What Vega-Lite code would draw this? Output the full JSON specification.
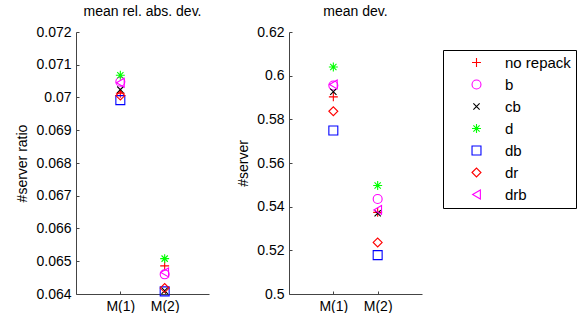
{
  "$schema": "https://vega.github.io/schema/vega-lite/v6.json",
  "background": "white",
  "padding": {"left": 15, "top": 5, "right": 0, "bottom": 0},
  "config": {
    "view": {"stroke": null},
    "font": "Liberation Sans",
    "axis": {"grid": false, "domainColor": "#444", "tickColor": "#444", "labelColor": "black", "titleColor": "black", "labelFontSize": 14, "titleFontSize": 14, "titleFontWeight": "normal", "tickSize": -3, "labelFont": "Liberation Sans", "titleFont": "Liberation Sans"},
    "title": {"fontSize": 14, "fontWeight": "normal", "font": "Liberation Sans", "color": "black"},
    "concat": {"spacing": 27}
  },
  "data": {"values": [
    {"panel": "a", "x": 1, "method": "no repack", "value": 0.07013},
    {"panel": "a", "x": 1, "method": "b", "value": 0.07048},
    {"panel": "a", "x": 1, "method": "cb", "value": 0.07024},
    {"panel": "a", "x": 1, "method": "d", "value": 0.07068},
    {"panel": "a", "x": 1, "method": "db", "value": 0.06992},
    {"panel": "a", "x": 1, "method": "dr", "value": 0.07006},
    {"panel": "a", "x": 1, "method": "drb", "value": 0.07045},
    {"panel": "a", "x": 2, "method": "no repack", "value": 0.06486},
    {"panel": "a", "x": 2, "method": "b", "value": 0.0646},
    {"panel": "a", "x": 2, "method": "cb", "value": 0.0641},
    {"panel": "a", "x": 2, "method": "d", "value": 0.06508},
    {"panel": "a", "x": 2, "method": "db", "value": 0.06408},
    {"panel": "a", "x": 2, "method": "dr", "value": 0.06418},
    {"panel": "a", "x": 2, "method": "drb", "value": 0.06466},
    {"panel": "b", "x": 1, "method": "no repack", "value": 0.5903},
    {"panel": "b", "x": 1, "method": "b", "value": 0.5955},
    {"panel": "b", "x": 1, "method": "cb", "value": 0.5926},
    {"panel": "b", "x": 1, "method": "d", "value": 0.604},
    {"panel": "b", "x": 1, "method": "db", "value": 0.5749},
    {"panel": "b", "x": 1, "method": "dr", "value": 0.5837},
    {"panel": "b", "x": 1, "method": "drb", "value": 0.596},
    {"panel": "b", "x": 2, "method": "no repack", "value": 0.5374},
    {"panel": "b", "x": 2, "method": "b", "value": 0.5435},
    {"panel": "b", "x": 2, "method": "cb", "value": 0.537},
    {"panel": "b", "x": 2, "method": "d", "value": 0.5497},
    {"panel": "b", "x": 2, "method": "db", "value": 0.5178},
    {"panel": "b", "x": 2, "method": "dr", "value": 0.5236},
    {"panel": "b", "x": 2, "method": "drb", "value": 0.5385}
  ]},
  "hconcat": [
    {
      "width": 133, "height": 262,
      "title": {"text": "mean rel. abs. dev.", "offset": 6},
      "transform": [{"filter": "datum.panel == 'a'"}],
      "mark": {"type": "point", "filled": false, "strokeWidth": 1.1, "size": 80, "opacity": 1},
      "encoding": {
        "x": {"field": "x", "type": "quantitative", "scale": {"domain": [0, 3]}, "axis": {"title": null, "values": [1, 2], "labelExpr": "'M(' + datum.value + ')'", "labelPadding": 8}},
        "y": {"field": "value", "type": "quantitative", "scale": {"domain": [0.064, 0.072], "zero": false}, "axis": {"title": "#server ratio", "values": [0.064, 0.065, 0.066, 0.067, 0.068, 0.069, 0.07, 0.071, 0.072], "format": ".3~f", "labelPadding": 8, "titlePadding": 6}},
        "color": {"field": "method", "type": "nominal", "scale": {"domain": ["no repack", "b", "cb", "d", "db", "dr", "drb"], "range": ["#ff0000", "#ff00ff", "#000000", "#00ff00", "#0000ff", "#ff0000", "#ff00ff"]}, "legend": null},
        "shape": {"field": "method", "type": "nominal", "scale": {"domain": ["no repack", "b", "cb", "d", "db", "dr", "drb"], "range": ["M-1,0H1M0,-1V1", "circle", "M-0.7,-0.7L0.7,0.7M-0.7,0.7L0.7,-0.7", "M-1,0H1M0,-1V1M-0.7,-0.7L0.7,0.7M-0.7,0.7L0.7,-0.7", "square", "diamond", "triangle-left"]}, "legend": null}
      }
    },
    {
      "width": 133, "height": 262,
      "title": {"text": "mean dev.", "offset": 6},
      "transform": [{"filter": "datum.panel == 'b'"}],
      "mark": {"type": "point", "filled": false, "strokeWidth": 1.1, "size": 80, "opacity": 1},
      "encoding": {
        "x": {"field": "x", "type": "quantitative", "scale": {"domain": [0, 3]}, "axis": {"title": null, "values": [1, 2], "labelExpr": "'M(' + datum.value + ')'", "labelPadding": 8}},
        "y": {"field": "value", "type": "quantitative", "scale": {"domain": [0.5, 0.62], "zero": false}, "axis": {"title": "#server", "values": [0.5, 0.52, 0.54, 0.56, 0.58, 0.6, 0.62], "format": ".2~f", "labelPadding": 8, "titlePadding": 6}},
        "color": {"field": "method", "type": "nominal", "scale": {"domain": ["no repack", "b", "cb", "d", "db", "dr", "drb"], "range": ["#ff0000", "#ff00ff", "#000000", "#00ff00", "#0000ff", "#ff0000", "#ff00ff"]}, "legend": {"title": null, "titlePadding": 0, "orient": "none", "legendX": 154, "legendY": 18, "strokeColor": "black", "fillColor": "white", "padding": 5, "symbolOffset": 21, "labelFontSize": 15, "labelFont": "Liberation Sans", "labelColor": "black", "rowPadding": 6, "labelOffset": 21, "symbolSize": 80, "symbolStrokeWidth": 1.1}},
        "shape": {"field": "method", "type": "nominal", "scale": {"domain": ["no repack", "b", "cb", "d", "db", "dr", "drb"], "range": ["M-1,0H1M0,-1V1", "circle", "M-0.7,-0.7L0.7,0.7M-0.7,0.7L0.7,-0.7", "M-1,0H1M0,-1V1M-0.7,-0.7L0.7,0.7M-0.7,0.7L0.7,-0.7", "square", "diamond", "triangle-left"]}, "legend": {"title": null, "orient": "none", "legendX": 154, "legendY": 18}}
      }
    }
  ],
  "resolve": {"scale": {"y": "independent"}, "legend": {"color": "independent", "shape": "independent"}}
}
